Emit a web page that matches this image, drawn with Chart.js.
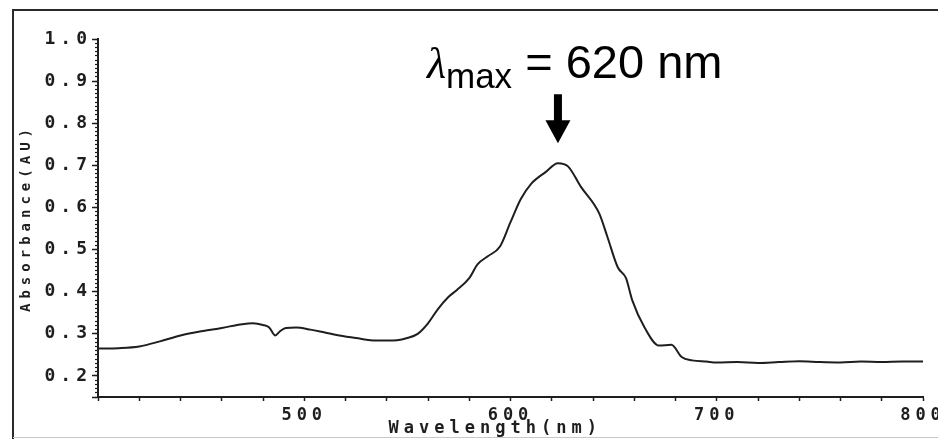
<!DOCTYPE html>
<html>
<head>
<meta charset="utf-8">
<script src="https://cdn.jsdelivr.net/npm/chart.js@4"></script>
<style>
    html, body { margin: 0; padding: 0; background: #fff; }
    #wrap { width: 938px; height: 439px; }
</style>
</head>
<body>
<div id="wrap"><canvas id="spectrum"></canvas></div>
<script>
// values
const wavelengths = [
    400, 410, 420, 430, 440, 450, 460, 470, 475, 480,
    483, 486, 488, 491, 496, 503, 510, 517, 525, 535,
    545, 550, 555, 560, 565, 570, 574, 580, 584, 589,
    595, 600, 605, 610, 617, 623, 628, 634, 643, 647,
    652, 656, 659, 665, 672, 678, 683, 688, 695, 700,
    710, 720, 730, 740, 750, 760, 770, 780, 790, 800,
];
const absorbance = [
    0.265, 0.266, 0.270, 0.282, 0.296, 0.306, 0.314, 0.323, 0.325, 0.321,
    0.315, 0.296, 0.305, 0.314, 0.315, 0.310, 0.303, 0.296, 0.290, 0.284,
    0.285, 0.290, 0.300, 0.325, 0.360, 0.388, 0.404, 0.432, 0.465, 0.484,
    0.508, 0.565, 0.620, 0.656, 0.684, 0.705, 0.697, 0.650, 0.586, 0.530,
    0.458, 0.432, 0.380, 0.315, 0.272, 0.274, 0.245, 0.237, 0.234, 0.232,
    0.233, 0.231, 0.233, 0.235, 0.233, 0.232, 0.234, 0.233, 0.234, 0.234,
];
const xTickLabels = [500, 600, 700, 800];
const yTickLabels = [0.2, 0.3, 0.4, 0.5, 0.6, 0.7, 0.8, 0.9, 1.0];

const ink = "#1e1e1e";
const mono = "'DejaVu Sans Mono', monospace";
const spacing = "5px";

// the plotter font is widely spaced, so all axis text gets letter spacing
const plotterLook = {
    id: "plotterLook",
    beforeUpdate(chart) {
        chart.ctx.letterSpacing = spacing;
    },
    beforeDraw(chart) {
        chart.ctx.letterSpacing = spacing;
    },
    afterDraw(chart) {
        const ctx = chart.ctx;
        ctx.save();
        ctx.letterSpacing = "0px";

        // scan frame
        ctx.strokeStyle = "#2a2a2a";
        ctx.lineWidth = 2;
        ctx.beginPath();
        ctx.moveTo(13, 439);
        ctx.lineTo(13, 10);
        ctx.lineTo(938, 10);
        ctx.stroke();
        ctx.strokeStyle = "#c8c8c8";
        ctx.lineWidth = 1;
        ctx.beginPath();
        ctx.moveTo(13, 437.5);
        ctx.lineTo(938, 437.5);
        ctx.stroke();

        // arrow and label over the maximum
        let peak = 0;
        absorbance.forEach((a, i) => {
            if (a > absorbance[peak]) peak = i;
        });
        const px = chart.scales.x.getPixelForValue(wavelengths[peak]);
        const py = chart.scales.y.getPixelForValue(absorbance[peak]);
        const tipY = py - 20;

        ctx.fillStyle = "#000";
        ctx.fillRect(px - 4, tipY - 49, 8, 27);
        ctx.beginPath();
        ctx.moveTo(px - 12.5, tipY - 23);
        ctx.lineTo(px + 12.5, tipY - 23);
        ctx.lineTo(px, tipY);
        ctx.closePath();
        ctx.fill();

        const base = tipY - 65;
        let tx = px - 131;
        ctx.textBaseline = "alphabetic";
        ctx.textAlign = "left";
        ctx.font = "italic 44px 'Liberation Serif'";
        ctx.fillText("λ", tx, base);
        tx += ctx.measureText("λ").width;
        ctx.font = "35px 'Liberation Sans'";
        ctx.fillText("max", tx, base + 10);
        tx += ctx.measureText("max").width;
        ctx.font = "47px 'Liberation Sans'";
        ctx.fillText(" = 620 nm", tx, base);

        ctx.restore();
    },
};

new Chart(document.getElementById("spectrum"), {
    type: "line",
    data: {
        datasets: [{
            data: wavelengths.map((w, i) => ({x: w, y: absorbance[i]})),
            borderColor: ink,
            borderWidth: 2,
            pointRadius: 0,
            cubicInterpolationMode: "monotone",
            fill: false,
        }],
    },
    options: {
        responsive: true,
        maintainAspectRatio: false,
        animation: false,
        layout: {
            padding: {top: 39, right: 15, left: 0, bottom: 0},
        },
        plugins: {
            legend: {display: false},
            tooltip: {enabled: false},
        },
        scales: {
            x: {
                type: "linear",
                min: 400,
                max: 800,
                afterFit(scale) {
                    scale.height = 42;
                    scale.paddingLeft = 0;
                    scale.paddingRight = 0;
                },
                border: {display: true, color: ink, width: 2},
                grid: {drawOnChartArea: false, tickLength: 4, tickColor: ink, tickWidth: 1.5},
                ticks: {
                    stepSize: 20,
                    autoSkip: false,
                    maxRotation: 0,
                    minRotation: 0,
                    padding: 4,
                    color: ink,
                    font: {family: mono, size: 17, weight: "bold"},
                    callback: (v) => xTickLabels.includes(v) ? String(v) : "",
                },
                title: {
                    display: true,
                    // trailing spaces nudge the centred title left like the original
                    text: "Wavelength(nm)\u00a0\u00a0",
                    color: ink,
                    padding: 0,
                    font: {family: mono, size: 17, weight: "bold"},
                },
            },
            y: {
                type: "linear",
                position: "left",
                weight: 1,
                min: 0.15,
                max: 1.0,
                afterFit(scale) {
                    scale.width = 98;
                },
                border: {display: true, color: ink, width: 2},
                grid: {drawOnChartArea: false, tickLength: 6, tickColor: ink, tickWidth: 1.5},
                ticks: {
                    stepSize: 0.1,
                    autoSkip: false,
                    padding: 0,
                    color: ink,
                    font: {family: mono, size: 18, weight: "bold"},
                    callback: (v) => yTickLabels.some((t) => Math.abs(t - v) < 1e-6) ? v.toFixed(1) : "",
                },
                title: {
                    display: true,
                    text: "Absorbance(AU)",
                    color: ink,
                    padding: {top: 18, bottom: 0},
                    font: {family: mono, size: 14, weight: "bold"},
                },
            },
            yMinor: {
                type: "linear",
                position: "left",
                weight: 0,
                min: 0.15,
                max: 1.0,
                afterFit(scale) {
                    scale.width = 0;
                },
                border: {display: false},
                grid: {drawOnChartArea: false, tickLength: 3, tickColor: ink, tickWidth: 1.2},
                ticks: {stepSize: 0.01, display: false},
            },
        },
    },
    plugins: [plotterLook],
});
</script>
</body>
</html>
